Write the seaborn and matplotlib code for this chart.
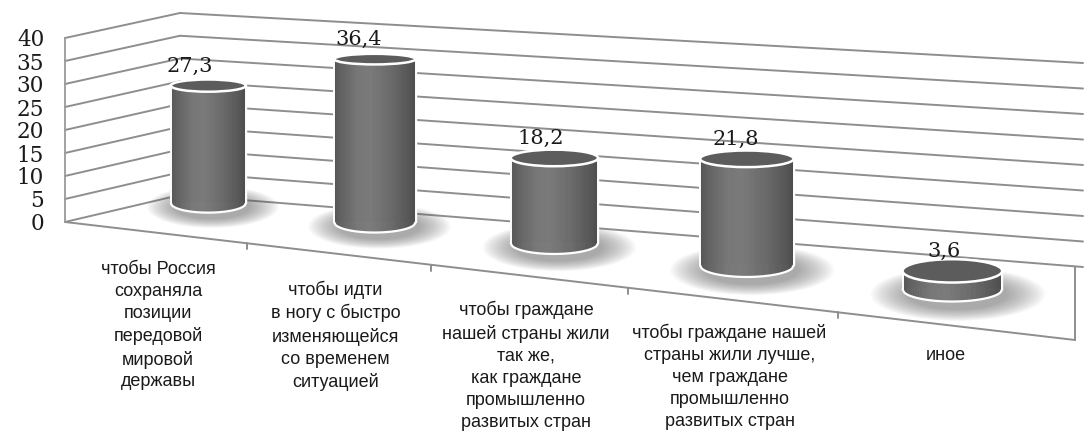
import numpy as np
import pandas as pd
import matplotlib
matplotlib.use("Agg")
import matplotlib.pyplot as plt
from matplotlib.patches import Ellipse, Polygon
from matplotlib.transforms import Affine2D
import seaborn as sns

# данные
categories = [
    "чтобы Россия\nсохраняла\nпозиции\nпередовой\nмировой\nдержавы",
    "чтобы идти\nв ногу с быстро\nизменяющейся\nсо временем\nситуацией",
    "чтобы граждане\nнашей страны жили\nтак же,\nкак граждане\nпромышленно\nразвитых стран",
    "чтобы граждане нашей\nстраны жили лучше,\nчем граждане\nпромышленно\nразвитых стран",
    "иное",
]
values = [27.3, 36.4, 18.2, 21.8, 3.6]
value_labels = ["27,3", "36,4", "18,2", "21,8", "3,6"]
y_ticks = [0, 5, 10, 15, 20, 25, 30, 35, 40]

sns.set_style("white")
plt.rcParams["font.family"] = ["Liberation Sans", "DejaVu Sans"]

# --- layout (pixels of the 1084x432 picture) ---
W, H = 1084, 432
PX_X0 = 208.0           # x of the first category centre
PA, PB = 160.0, 6.5     # perspective: px = PX_X0 + PA*c + PB*c^2
PX_Y0 = 222.0           # image y of value 0 on the left axis
PY = 4.6                # px per value unit on the left axis
FLOOR_Y0, FLOOR_K = 203.0, 0.116   # floor line under the bars (image coords)
SCALE_Y0, SCALE_K = 4.3, 0.0011    # px per value unit at a bar, grows to the right


def fwd(c):
    c = np.maximum(np.asarray(c, dtype=float), -12.0)
    return PA * c + PB * c ** 2


def inv(u):
    u = np.asarray(u, dtype=float)
    d = np.maximum(PA ** 2 + 4 * PB * u, 0.0)
    return (-PA + np.sqrt(d)) / (2 * PB)


def cat_at(px):
    return float(inv(px - PX_X0))


def val_at(py):
    return (PX_Y0 - py) / PY


def ell_h(y_img):
    return 10.5 + 0.06 * (y_img - 57)


df = pd.DataFrame({"cat": categories, "val": values})

fig = plt.figure(figsize=(W / 100, H / 100), dpi=100)
ax = fig.add_axes([0, 0, 1, 1])
sns.barplot(data=df, x="cat", y="val", color="#6a6a6a", saturation=1,
            width=0.47, ax=ax, zorder=2)
bars = list(ax.patches)

ax.set_xscale("function", functions=(fwd, inv))
ax.set_xlim(cat_at(0), cat_at(W))
ax.set_ylim(val_at(H), val_at(0))
ax.patch.set_visible(False)
ax.set_xlabel("")
ax.set_ylabel("")
ax.set_xticks([])
for s in ["top", "right", "bottom"]:
    ax.spines[s].set_visible(False)

grid_c = "#8e8e8e"
left_x = cat_at(65)
corner_x = cat_at(180)
right_x = cat_at(1083)
edge_x = cat_at(1075)

ax.spines["left"].set_position(("data", left_x))
ax.spines["left"].set_bounds(0, 40)
ax.spines["left"].set_color("#9a9a9a")
ax.spines["left"].set_linewidth(1.3)
ax.set_yticks(y_ticks)
ax.set_yticklabels([str(t) for t in y_ticks])
ax.tick_params(axis="y", length=4, width=1.2, color="#9a9a9a", pad=11,
               labelsize=15.5, labelcolor="#1a1a1a")
for lbl in ax.get_yticklabels():
    lbl.set_fontfamily("DejaVu Serif")

# walls with gridlines
for v in y_ticks:
    yc = val_at(195 - 4.55 * v)
    ax.plot([left_x, corner_x], [v, yc], color=grid_c, lw=1.4, zorder=1)
    ax.plot([corner_x, right_x], [yc, val_at(267 - 5.1 * v)],
            color=grid_c, lw=1.4, zorder=1)
# floor
ax.plot([left_x, edge_x], [0, val_at(340)], color=grid_c, lw=1.4, zorder=1)
ax.plot([edge_x, edge_x], [val_at(267), val_at(340)], color=grid_c, lw=1.4, zorder=1)

knots = [0, 0.08, 0.3, 0.45, 0.7, 0.92, 1]
levels = [0.33, 0.38, 0.47, 0.48, 0.42, 0.34, 0.30]

label_px = []
for i, p in enumerate(bars):
    x0, w, h = p.get_x(), p.get_width(), p.get_height()
    xc = x0 + w / 2
    xc_px = PX_X0 + float(fwd(xc))
    base_img = FLOOR_Y0 + FLOOR_K * (xc_px - PX_X0)
    sy = SCALE_Y0 + SCALE_K * (xc_px - PX_X0)
    T = Affine2D().scale(1, sy / PY).translate(0, val_at(base_img)) + ax.transData
    p.set_transform(T)
    top_img = base_img - sy * h
    eh_top = ell_h(top_img) / sy
    eh_bot = ell_h(base_img) / sy

    # soft shadow
    for s in np.linspace(1.0, 1.75, 18):
        ax.add_patch(Ellipse((xc + w * 0.05, -eh_bot * 0.2), w * s, eh_bot * 1.25 * s,
                             facecolor="#5a5a5a", edgecolor="none", alpha=0.035,
                             transform=T, zorder=1.5))

    # cylinder body as shaded strips
    edges = np.linspace(x0, x0 + w, 41)
    half = w / 2

    def arc(x):
        return -eh_bot / 2 * np.sqrt(np.clip(1 - ((x - xc) / half) ** 2, 0, 1))

    for a, b in zip(edges[:-1], edges[1:]):
        g = float(np.interp(((a + b) / 2 - x0) / w, knots, levels))
        ax.add_patch(Polygon([(a, arc(a)), (b, arc(b)), (b, h), (a, h)], closed=True,
                             facecolor=str(g), edgecolor=str(g), lw=0.4,
                             transform=T, zorder=3))
    xs = np.linspace(x0, x0 + w, 60)
    ax.plot(xs, arc(xs), color="white", lw=1.6, transform=T, zorder=3.5)
    ax.plot([x0, x0], [0, h], color="white", lw=1.4, transform=T, zorder=3.5)
    ax.plot([x0 + w, x0 + w], [0, h], color="white", lw=1.4, transform=T, zorder=3.5)
    ax.add_patch(Ellipse((xc, h), w, eh_top, facecolor="#5c5c5c", edgecolor="white",
                         lw=1.8, transform=T, zorder=4))

    # value label
    ax.text(xc, h, value_labels[i], ha="center", va="baseline", fontsize=15,
            family="DejaVu Serif", color="#1a1a1a", zorder=6,
            transform=T + Affine2D().translate(-(18 - 2.5 * i), 14))
    # category label
    dx = -50 + 11 * i
    label_px.append(xc_px + dx)
    ax.text(xc, 0, categories[i], ha="center", va="top", fontsize=13,
            linespacing=1.38, color="#1a1a1a", zorder=6,
            transform=T + Affine2D().translate(dx, -58))

# small ticks on the front floor edge between categories
for xa, xb in zip(label_px[:-1], label_px[1:]):
    xm = (xa + xb) / 2
    fy = PX_Y0 + (340 - PX_Y0) * (xm - 65) / (1075 - 65)
    ax.plot([cat_at(xm)] * 2, [val_at(fy), val_at(fy + 6)], color=grid_c, lw=1.4, zorder=1)

fig.savefig("out.png", dpi=100)
